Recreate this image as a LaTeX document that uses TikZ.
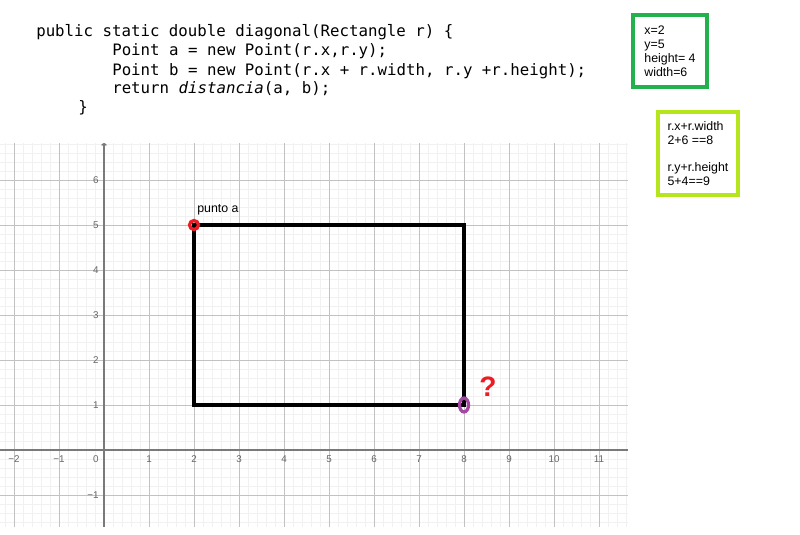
\documentclass[tikz,border=0pt]{standalone}
\usepackage{fontspec}
\usetikzlibrary{arrows.meta}
\setmainfont{Liberation Sans}
\setmonofont{DejaVu Sans Mono}[ItalicFont={DejaVu Sans Mono Oblique}]
\definecolor{boxgreen}{HTML}{22B14C}
\definecolor{boxlime}{HTML}{B5E61D}
\definecolor{markred}{HTML}{ED1C24}
\definecolor{markpurple}{HTML}{A349A4}
\definecolor{gridminor}{HTML}{F1F1F1}
\definecolor{gridmajor}{HTML}{C2C2C2}
\definecolor{axisgray}{HTML}{7A7A7A}
\definecolor{labelgray}{HTML}{666666}

\begin{document}
\begin{tikzpicture}[x=1.125cm, y=1.125cm,
    codeline/.style={anchor=base west, inner sep=0pt,
        font=\ttfamily\fontsize{11.2}{13.5}\selectfont},
    infobox/.style={draw, line width=2.6pt, align=left, inner sep=0pt,
        font=\fontsize{8.8}{9.9}\selectfont},
    ticklabel/.style={text=labelgray, inner sep=1pt,
        font=\fontsize{7}{8}\selectfont},
    rect/.style={line width=2.85pt, line join=miter}
]
    \useasboundingbox (-2.3111,-1.8889) rectangle (15.4667,10);

    % grid and axes
    \draw[gridminor, line width=0.4pt, step=0.2] (-2.3111,-1.7111) grid (11.6444,6.8222);
    \draw[gridmajor, line width=0.6pt, step=1] (-2.3111,-1.7111) grid (11.6444,6.8222);
    \draw[axisgray, line width=1.1pt] (-2.3111,0) -- (11.6444,0);
    \draw[axisgray, line width=1.1pt, -{To[length=2pt,width=4pt]}] (0,-1.7111) -- (0,6.8222);
    \foreach \n/\t in {-2/−2, -1/−1, 1/1, 2/2, 3/3, 4/4, 5/5, 6/6, 7/7, 8/8, 9/9, 10/10, 11/11}
        \node[ticklabel] (xl\n) at (\n,-0.2) {\t};
    \node[ticklabel] (xl0) at (-0.18,-0.2) {0};
    \foreach \n/\t in {-1/−1, 1/1, 2/2, 3/3, 4/4, 5/5, 6/6}
        \node[ticklabel, anchor=east] (yl\n) at (-0.08,\n) {\t};

    % code
    \node[codeline] (code1) at (-1.511,9.178) {public static double diagonal(Rectangle r) \{};
    \node[codeline] (code2) at (0.178,8.756) {Point a = new Point(r.x,r.y);};
    \node[codeline] (code3) at (0.178,8.333) {Point b = new Point(r.x + r.width, r.y +r.height);};
    \node[codeline] (code4) at (0.178,7.911) {return \textit{distancia}(a, b);};
    \node[codeline] (code5) at (-0.578,7.489) {\}};

    % boxes
    \node[infobox, draw=boxgreen, minimum width=1.8625cm, minimum height=1.8125cm]
        (values) at (12.578,8.867) {x=2\\y=5\\height= 4\\width=6};
    \node[infobox, draw=boxlime, minimum width=2.0125cm, minimum height=2.0875cm]
        (sums) at (13.2,6.589) {r.x+r.width\\2+6 ==8\\[9pt]r.y+r.height\\5+4==9};

    % rectangle
    \coordinate (pa) at (2,5);
    \coordinate (pb) at (8,1);
    \draw[rect] (pa) rectangle (pb);
    \draw[markred, line width=2.3pt] (pa) circle[radius=0.1];
    \draw[markpurple, line width=2.3pt] (pb) ellipse[x radius=0.1, y radius=0.156];
    \node[font=\fontsize{8.8}{10}\selectfont, inner sep=0pt] (lblA) at (2.533,5.333) {punto a};
    \node[text=markred, font=\bfseries\fontsize{20}{22}\selectfont, inner sep=0pt] (qmark) at (8.533,1.4) {?};
\end{tikzpicture}
\end{document}
